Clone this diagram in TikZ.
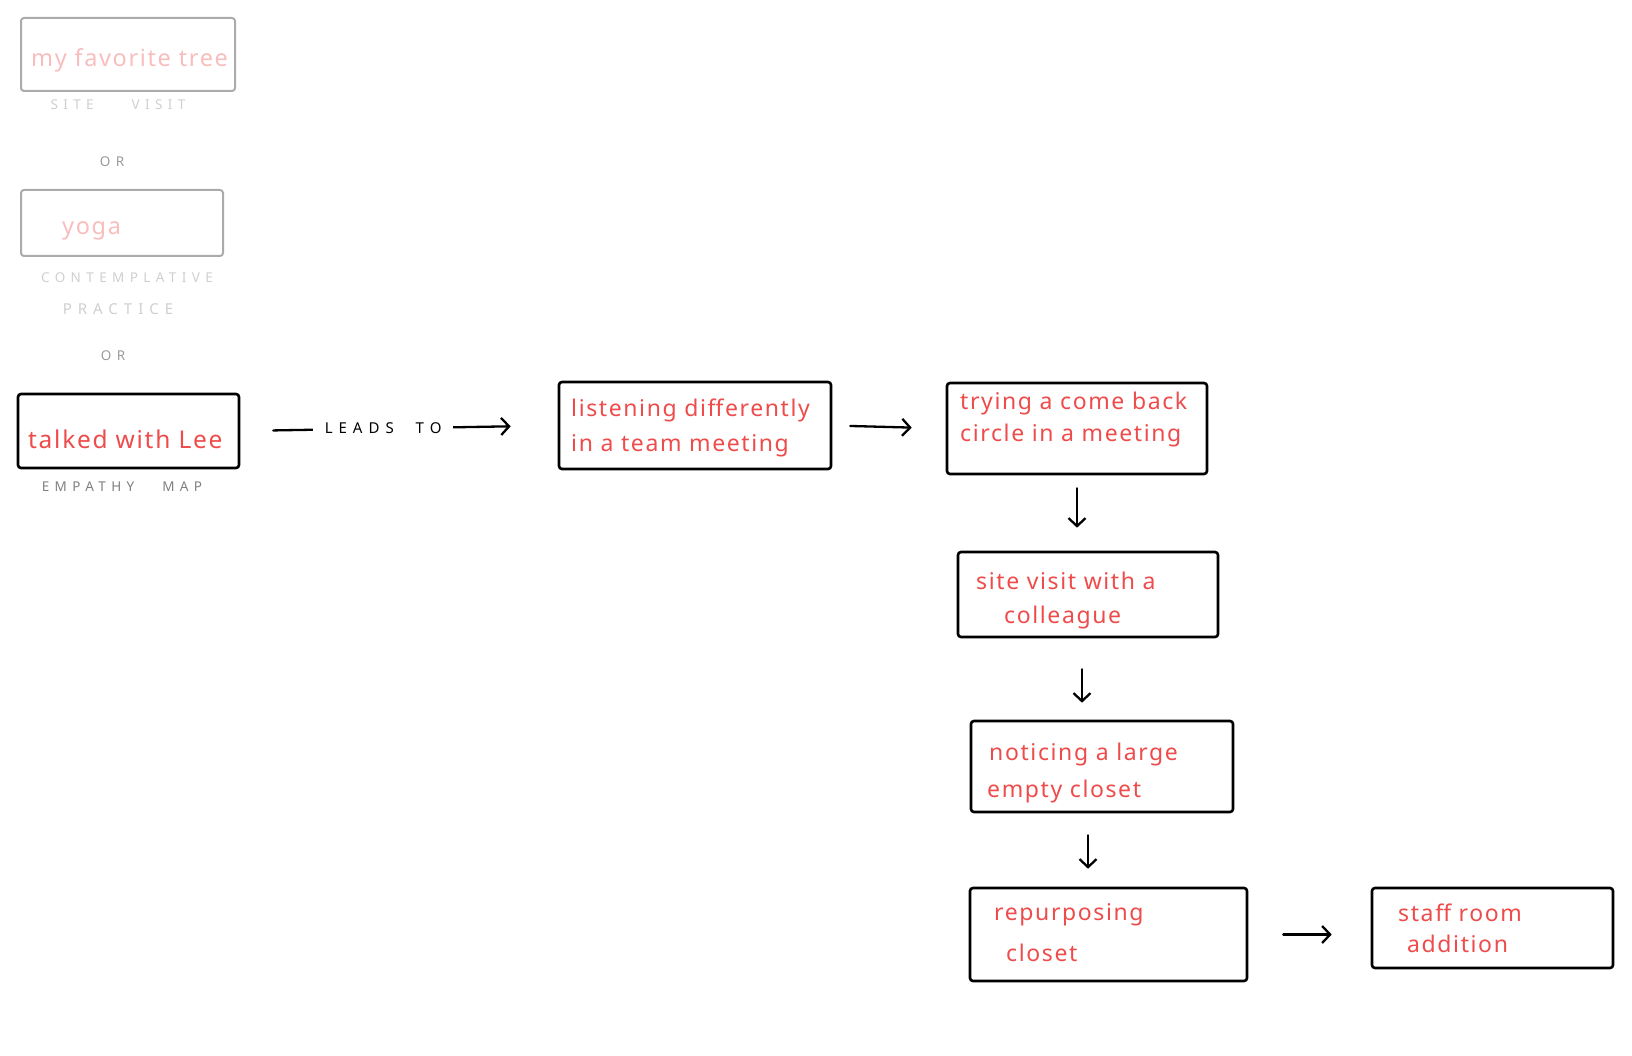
\documentclass[tikz,border=0pt]{standalone}
\usepackage{fontspec}
\setmainfont{Noto Sans}
\newfontfamily\capsfont[LetterSpace=40]{Noto Sans}
\newfontfamily\handfont[LetterSpace=7]{Noto Sans}
\usetikzlibrary{arrows.meta}
\definecolor{inkred}{HTML}{EE4B4B}
\definecolor{fadepink}{HTML}{F8BDBD}
\definecolor{boxgray}{HTML}{ABABAB}
\definecolor{labelfade}{HTML}{CFCFCF}
\definecolor{labelgray}{HTML}{9A9A9A}
\definecolor{labeldark}{HTML}{808080}
\begin{document}
\begin{tikzpicture}[x=1pt,y=-1pt,
  sbox/.style={draw=black,line width=2.6pt,rounded corners=3pt,inner sep=0pt},
  fbox/.style={sbox,draw=boxgray,line width=2pt},
  hand/.style={text=inkred,font=\handfont\fontsize{23}{27}\selectfont,anchor=west,inner sep=0pt},
  bighand/.style={hand,font=\handfont\fontsize{24.5}{29}\selectfont},
  fadehand/.style={hand,text=fadepink,font=\handfont\fontsize{23.5}{28}\selectfont},
  caplbl/.style={font=\capsfont\fontsize{13.5}{15}\selectfont,inner sep=0pt},
  conn/.style={line width=2.3pt,line cap=round,-{Straight Barb[length=8pt,width=17pt,line width=2.3pt]}}
]
\useasboundingbox (0,0) rectangle (1632,1056);

% faded options
\node[fbox,minimum width=214pt,minimum height=73pt] (b1) at (128,54.5) {};
\node[fadehand] (t1) at (31,60) {my favorite tree};
\node[caplbl,text=labelfade] (l1) at (118,105) {SITE\hspace{38pt}VISIT};
\node[caplbl,text=labelgray] (or1) at (112,162) {OR};

\node[fbox,minimum width=202pt,minimum height=66pt] (b2) at (122,223) {};
\node[fadehand] (t2) at (62,231) {yoga};
\node[caplbl,text=labelfade] (l2a) at (127,278) {CONTEMPLATIVE};
\node[caplbl,text=labelfade,font=\capsfont\fontsize{15}{17}\selectfont] (l2b) at (118,309) {PRACTICE};
\node[caplbl,text=labelgray] (or2) at (113,356) {OR};

% chosen start
\node[sbox,minimum width=221pt,minimum height=74pt] (b3) at (128.5,431) {};
\node[bighand] (t3) at (28,439) {talked with Lee};
\node[caplbl,text=labeldark] (l3) at (122,487) {EMPATHY\hspace{28pt}MAP};

% chain
\node[sbox,minimum width=272pt,minimum height=87pt] (b4) at (695,425.5) {};
\node[hand] (t4a) at (571,410) {listening differently};
\node[hand] (t4b) at (571,446) {in a team meeting};

\node[sbox,minimum width=260pt,minimum height=91pt] (b5) at (1077,428.5) {};
\node[hand] (t5a) at (960,404) {trying a come back};
\node[hand] (t5b) at (960,436) {circle in a meeting};

\node[sbox,minimum width=260pt,minimum height=85pt] (b6) at (1088,594.5) {};
\node[hand] (t6a) at (976,581) {site visit with a};
\node[hand] (t6b) at (1004,618) {colleague};

\node[sbox,minimum width=262pt,minimum height=91pt] (b7) at (1102,766.5) {};
\node[hand] (t7a) at (989,755) {noticing a large};
\node[hand] (t7b) at (987,792) {empty closet};

\node[sbox,minimum width=277pt,minimum height=93pt] (b8) at (1108.5,934.5) {};
\node[hand] (t8a) at (994,915) {repurposing};
\node[hand] (t8b) at (1006,953) {closet};

\node[sbox,minimum width=241pt,minimum height=80pt] (b9) at (1492.5,928) {};
\node[hand] (t9a) at (1398,913) {staff room};
\node[hand] (t9b) at (1407,944) {addition};

% connectors
\draw[conn,shorten <=33pt,shorten >=47pt] (b3.east) -- (b4.west)
  node[pos=0.45,fill=white,inner xsep=12pt,inner ysep=6pt,font=\capsfont\fontsize{15}{17}\selectfont] (lt) {LEADS\hspace{22pt}TO};
\draw[conn,shorten <=18pt,shorten >=34pt] (b4.east) -- (b5.west);
\draw[conn,shorten <=13pt,shorten >=23pt] (b5.south) -- (b5.south |- b6.north);
\draw[conn,shorten <=31pt,shorten >=17pt] ([xshift=-6pt]b6.south) -- ([xshift=-6pt]b6.south |- b7.north);
\draw[conn,shorten <=22pt,shorten >=18pt] ([xshift=-14pt]b7.south) -- ([xshift=-14pt]b7.south |- b8.north);
\draw[conn,shorten <=35pt,shorten >=39pt] (b8.east) -- (b8.east -| b9.west);
\end{tikzpicture}
\end{document}
